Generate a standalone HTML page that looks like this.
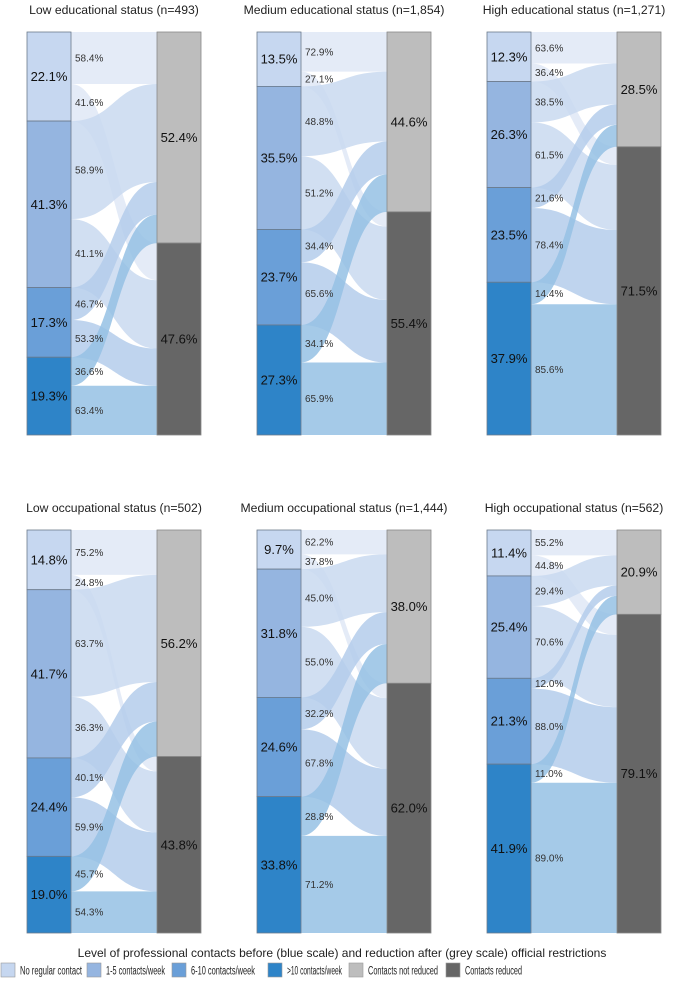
<!DOCTYPE html>
<html><head><meta charset="utf-8">
<style>
body{margin:0;background:#fff;}
svg{display:block;font-family:"Liberation Sans",sans-serif;}
</style></head>
<body>
<svg id="chart" width="684" height="991" viewBox="0 0 684 991"></svg>
<script>
const panelTitles = ["Low educational status (n=493)","Medium educational status (n=1,854)","High educational status (n=1,271)","Low occupational status (n=502)","Medium occupational status (n=1,444)","High occupational status (n=562)"];
const categoryNames = ["No regular contact","1-5 contacts/week","6-10 contacts/week",">10 contacts/week"];
const categoryShares = [
  [22.1,41.3,17.3,19.3],
  [13.5,35.5,23.7,27.3],
  [12.3,26.3,23.5,37.9],
  [14.8,41.7,24.4,19.0],
  [9.7,31.8,24.6,33.8],
  [11.4,25.4,21.3,41.9]
];
const notReducedShares = [
  [58.4,58.9,46.7,36.6],
  [72.9,48.8,34.4,34.1],
  [63.6,38.5,21.6,14.4],
  [75.2,63.7,40.1,45.7],
  [62.2,45.0,32.2,28.8],
  [55.2,29.4,12.0,11.0]
];
const reducedShares = [
  [41.6,41.1,53.3,63.4],
  [27.1,51.2,65.6,65.9],
  [36.4,61.5,78.4,85.6],
  [24.8,36.3,59.9,54.3],
  [37.8,55.0,67.8,71.2],
  [44.8,70.6,88.0,89.0]
];
const notReducedTotals = [52.4,44.6,28.5,56.2,38.0,20.9];
const reducedTotals = [47.6,55.4,71.5,43.8,62.0,79.1];

const catColors = ["#c6d7f0","#95b5e0","#6a9fd8","#2e84c8"];
const flowColors = ["#dfe8f6","#c9d9f0","#b4cdeb","#95c1e4"];
const greyColors = ["#bdbdbd","#666666"];
const NS = "http://www.w3.org/2000/svg";
const svg = document.getElementById("chart");
function mk(tag, attrs, parent){
  const e = document.createElementNS(NS, tag);
  for (const k in attrs) e.setAttribute(k, attrs[k]);
  (parent||svg).appendChild(e);
  return e;
}
const colX = [27,257,487];
const rowY = [32,530];
const H = 403, BW = 44, RX = 130;

categoryShares.forEach((shares, p) => {
  const x0 = colX[p%3], y0 = rowY[Math.floor(p/3)];
  const yScale = v => v/100*H;
  const g = mk("g", {});
  
  
  const t = mk("text", {x:x0+87, y:y0-18, "text-anchor":"middle", "font-size":"12.2", fill:"#222"}, g);
  t.textContent = panelTitles[p];
  
  
  const total = shares.reduce((a,b)=>a+b,0);
  const nrParts = shares.map((s,i)=>s*notReducedShares[p][i]/total);
  const rParts = shares.map((s,i)=>s*reducedShares[p][i]/total);
  const nrSum = nrParts.reduce((a,b)=>a+b,0);
  let ly = y0, rTopNR = y0, rTopR = y0 + yScale(nrSum);
  const xl = x0+BW, xr = x0+RX, xm = (xl+xr)/2;
  const flows = [];
  shares.forEach((s,i)=>{
    const h1 = yScale(nrParts[i]), h2 = yScale(rParts[i]);
    flows.push({i, ys:ly, yd:rTopNR, h:h1, lab:notReducedShares[p][i]});
    ly += h1; rTopNR += h1;
    flows.push({i, ys:ly, yd:rTopR, h:h2, lab:reducedShares[p][i]});
    ly += h2; rTopR += h2;
  });
  flows.forEach(f=>{
    const d = `M${xl},${f.ys} C${xm},${f.ys} ${xm},${f.yd} ${xr},${f.yd} L${xr},${f.yd+f.h} C${xm},${f.yd+f.h} ${xm},${f.ys+f.h} ${xl},${f.ys+f.h} Z`;
    const path = mk("path", {d, fill:flowColors[f.i], "fill-opacity":"0.85"}, g);
    
    
  });
  flows.forEach(f=>{
    const tl = mk("text", {x:xl+4, y:f.ys+f.h/2+3.5, "font-size":"10", fill:"#333"}, g);
    tl.textContent = f.lab.toFixed(1)+"%";
    
    
  });
  let cy = y0;
  shares.forEach((s,i)=>{
    const h = yScale(s/total*100);
    const r = mk("rect", {x:x0, y:cy, width:BW, height:h, fill:catColors[i], stroke:"#6b7a8c", "stroke-width":"0.8"}, g);
    
    
    const tx = mk("text", {x:x0+BW/2, y:cy+h/2+4.5, "text-anchor":"middle", "font-size":"13", fill:"#111"}, g);
    tx.textContent = s.toFixed(1)+"%";
    
    
    cy += h;
  });
  const hNR = yScale(nrSum*100/ (nrSum + rParts.reduce((a,b)=>a+b,0)));
  const hs = [hNR, H-hNR];
  const labs = [notReducedTotals[p], reducedTotals[p]];
  let ry = y0;
  hs.forEach((h,k)=>{
    const r = mk("rect", {x:xr, y:ry, width:BW, height:h, fill:greyColors[k], stroke:"#888", "stroke-width":"0.8"}, g);
    
    
    const tx = mk("text", {x:xr+BW/2, y:ry+h/2+4.5, "text-anchor":"middle", "font-size":"13", fill:"#111"}, g);
    tx.textContent = labs[k].toFixed(1)+"%";
    
    
    ry += h;
  });
});

const lt = mk("text", {x:342, y:957, "text-anchor":"middle", "font-size":"12", fill:"#222"});
lt.textContent = "Level of professional contacts before (blue scale) and reduction after (grey scale) official restrictions";


const legendLabels = categoryNames.concat(["Contacts not reduced","Contacts reduced"]);
const legendColors = catColors.concat(greyColors);
const boxX = [1,87,172,268,349,446];
const textW = [62,59,64,55,70,57];
legendLabels.forEach((l,i)=>{
  const g = mk("g", {});
  
  
  mk("rect", {x:boxX[i], y:963, width:14, height:14, fill:legendColors[i], stroke:"#999", "stroke-width":"0.6"}, g);
  const t = mk("text", {x:boxX[i]+19, y:974.5, "font-size":"11.5", fill:"#222", textLength:textW[i], lengthAdjust:"spacingAndGlyphs"}, g);
  t.textContent = l;
});
</script>
</body></html>
